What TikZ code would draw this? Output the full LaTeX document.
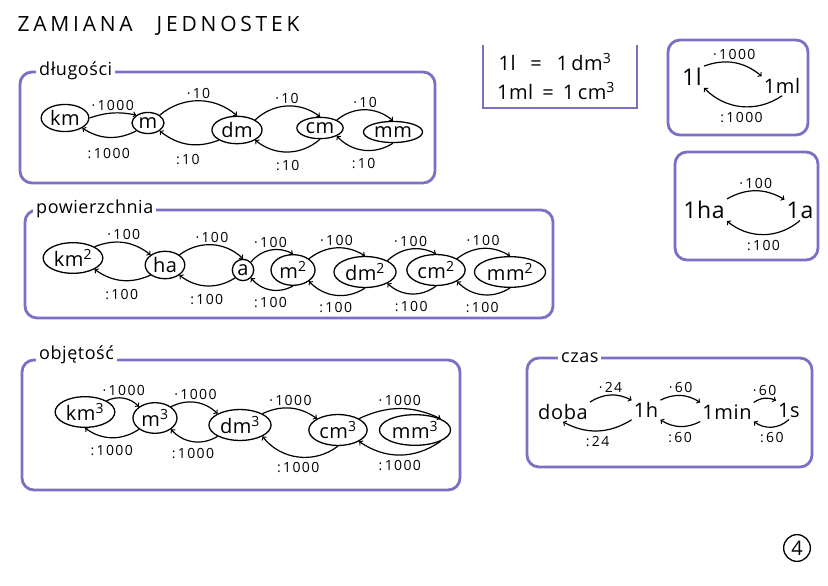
\documentclass[tikz,border=0pt]{standalone}
\usepackage{fontspec}
\setmainfont{Open Sans}[LetterSpace=3]
\newfontfamily\titlefont[LetterSpace=18]{Open Sans}
\newfontfamily\liczby[LetterSpace=10]{Open Sans}
\usetikzlibrary{shapes.geometric}

\definecolor{fiolet}{RGB}{122,112,196}

\tikzset{
  ramka/.style={draw=fiolet, line width=2.8pt, rounded corners=12pt},
  tytul/.style={fill=white, inner sep=3pt, anchor=west, font=\fontsize{18}{18}\selectfont},
  jedn/.style={draw, ellipse, line width=1.3pt, inner sep=2pt, font=\fontsize{20}{20}\selectfont},
  napis/.style={inner sep=2pt, font=\fontsize{20}{20}\selectfont},
  przel/.style={->, line width=1.2pt},
  lab/.style={inner sep=2pt, font=\liczby\fontsize{14}{14}\selectfont}
}

\begin{document}
\begin{tikzpicture}[x=1pt, y=-1pt]
  \useasboundingbox[fill=white] (0,0) rectangle (828,586);

  % naglowek
  \node[anchor=west, font=\titlefont\fontsize{21}{21}\selectfont] (tyt) at (14,26) {ZAMIANA\hspace{24pt}JEDNOSTEK};

  % dlugosci
  \draw[ramka] (20,72) rectangle (435,183);
  \node[tytul] (dl) at (36,71) {długości};
  \node[jedn] (km) at (65,118) {km};
  \node[jedn] (m) at (148,123) {m};
  \node[jedn] (dm) at (237,130) {dm};
  \node[jedn] (cm) at (320,128) {cm};
  \node[jedn] (mm) at (393,132) {mm};
  \draw[przel] (km.east) to[bend left=15] node[lab, above] (g1) {·\,1000} (m.north west);
  \draw[przel] (m.north east) to[bend left=40] node[lab, above] (g2) {·\,10} (dm.north);
  \draw[przel] (dm.north east) to[bend left=40] node[lab, above] (g3) {·\,10} (cm.north);
  \draw[przel] (cm.north east) to[bend left=40] node[lab, above] (g4) {·\,10} (mm.north);
  \draw[przel] (m.south west) to[bend left=30] node[lab, below=8pt] (d1) {:\,1000} (km.south east);
  \draw[przel] (dm.south west) to[bend left=30] node[lab, below=8pt] (d2) {:\,10} (m.south east);
  \draw[przel] (cm.south) to[bend left=40] node[lab, below=6pt] (d3) {:\,10} (dm.south east);
  \draw[przel] (mm.south) to[bend left=40] node[lab, below=6pt] (d4) {:\,10} (cm.south east);

  % powierzchnia
  \draw[ramka] (25,210) rectangle (553,318);
  \node[tytul] (pw) at (33,209) {powierzchnia};
  \node[jedn] (km2) at (73,258) {km\textsuperscript{2}};
  \node[jedn] (ha) at (165,265) {ha};
  \node[jedn] (ar) at (243,270) {a};
  \node[jedn] (m2) at (293,270) {m\textsuperscript{2}};
  \node[jedn] (dm2) at (365,272) {dm\textsuperscript{2}};
  \node[jedn] (cm2) at (436,270) {cm\textsuperscript{2}};
  \node[jedn] (mm2) at (510,272) {mm\textsuperscript{2}};
  \draw[przel] (km2.north east) to[bend left=30] node[lab, above] (p1) {·\,100} (ha.north west);
  \draw[przel] (ha.north east) to[bend left=40] node[lab, above] (p2) {·\,100} (ar.north);
  \draw[przel] (ar.north east) to[bend left=40] node[lab, above] (p3) {·\,100} (m2.north);
  \draw[przel] (m2.north east) to[bend left=35] node[lab, above] (p4) {·\,100} (dm2.north);
  \draw[przel] (dm2.north east) to[bend left=35] node[lab, above] (p5) {·\,100} (cm2.north);
  \draw[przel] (cm2.north east) to[bend left=35] node[lab, above] (p6) {·\,100} (mm2.north);
  \draw[przel] (ha.south west) to[bend left=30] node[lab, below=6pt] (q1) {:\,100} (km2.south east);
  \draw[przel] (ar.south west) to[bend left=35] node[lab, below=6pt] (q2) {:\,100} (ha.south east);
  \draw[przel] (m2.south) to[bend left=40] node[lab, below=5pt] (q3) {:\,100} (ar.south east);
  \draw[przel] (dm2.south) to[bend left=40] node[lab, below=5pt] (q4) {:\,100} (m2.south east);
  \draw[przel] (cm2.south) to[bend left=40] node[lab, below=5pt] (q5) {:\,100} (dm2.south east);
  \draw[przel] (mm2.south) to[bend left=40] node[lab, below=5pt] (q6) {:\,100} (cm2.south east);

  % objetosc
  \draw[ramka] (22,360) rectangle (460,490);
  \node[tytul] (ob) at (36,355) {objętość};
  \node[jedn] (km3) at (85,412) {km\textsuperscript{3}};
  \node[jedn] (m3) at (155,418) {m\textsuperscript{3}};
  \node[jedn] (dm3) at (240,425) {dm\textsuperscript{3}};
  \node[jedn] (cm3) at (338,430) {cm\textsuperscript{3}};
  \node[jedn] (mm3) at (415,430) {mm\textsuperscript{3}};
  \draw[przel] (km3.north east) to[bend left=35] node[lab, above] (o1) {·\,1000} (m3.north west);
  \draw[przel] (m3.north east) to[bend left=35] node[lab, above] (o2) {·\,1000} (dm3.north west);
  \draw[przel] (dm3.north east) to[bend left=30] node[lab, above] (o3) {·\,1000} (cm3.north west);
  \draw[przel] (cm3.north east) to[bend left=25] node[lab, above] (o4) {·\,1000} (mm3.north east);
  \draw[przel] (m3.south west) to[bend left=35] node[lab, below=5pt] (r1) {:\,1000} (km3.south);
  \draw[przel] (dm3.south west) to[bend left=40] node[lab, below=4pt] (r2) {:\,1000} (m3.south east);
  \draw[przel] (cm3.south) to[bend left=45] node[lab, below=3pt] (r3) {:\,1000} (dm3.south east);
  \draw[przel] (mm3.south east) to[bend left=35] node[lab, below=3pt] (r4) {:\,1000} (cm3.south east);

  % litry
  \draw[draw=fiolet, line width=2.8pt] (483,45) -- (483,108) -- (637,108) -- (637,45);
  \node[napis] (rw1) at (555,62) {1l\;\, =\;\, 1\,dm\textsuperscript{3}};
  \node[napis] (rw2) at (556,91) {1ml\, =\, 1\,cm\textsuperscript{3}};

  \draw[ramka] (668,40) rectangle (808,135);
  \node[napis, font=\fontsize{23}{23}\selectfont] (l) at (692,77) {1l};
  \node[napis] (ml) at (782,86) {1ml};
  \draw[przel] (l.north east) to[bend left=30] node[lab, above] (l1) {·\,1000} (ml.north west);
  \draw[przel] (ml.south) to[bend left=40] node[lab, below=3pt] (l2) {:\,1000} (l.south east);

  % hektary
  \draw[ramka] (675,152) rectangle (818,260);
  \node[napis, font=\fontsize{23}{23}\selectfont] (ha1) at (704,210) {1ha};
  \node[napis, font=\fontsize{23}{23}\selectfont] (a1) at (800,210) {1a};
  \draw[przel] (ha1.north east) to[bend left=30] node[lab, above] (h1) {·\,100} (a1.north west);
  \draw[przel] (a1.south) to[bend left=40] node[lab, below=3pt] (h2) {:\,100} (ha1.south east);

  % czas
  \draw[ramka] (527,358) rectangle (812,467);
  \node[tytul] (cz) at (558,358) {czas};
  \node[napis] (doba) at (563,412) {doba};
  \node[napis] (h) at (646,410) {1h};
  \node[napis] (min) at (727,412) {1min};
  \node[napis] (s) at (789,410) {1s};
  \draw[przel] (doba.north east) to[bend left=30] node[lab, above] (c1) {·\,24} (h.north west);
  \draw[przel] (h.north east) to[bend left=30] node[lab, above] (c2) {·\,60} (min.north west);
  \draw[przel] (min.north east) to[bend left=30] node[lab, above] (c3) {·\,60} (s.north west);
  \draw[przel] (h.south west) to[bend left=30] node[lab, below=3pt] (e1) {:\,24} (doba.south);
  \draw[przel] (min.south west) to[bend left=30] node[lab, below=3pt] (e2) {:\,60} (h.south east);
  \draw[przel] (s.south) to[bend left=40] node[lab, below=3pt] (e3) {:\,60} (min.south east);

  % numer strony
  \node[draw, circle, line width=1.3pt, inner sep=3pt, font=\fontsize{20}{20}\selectfont] (nr) at (797,548) {4};
\end{tikzpicture}
\end{document}
